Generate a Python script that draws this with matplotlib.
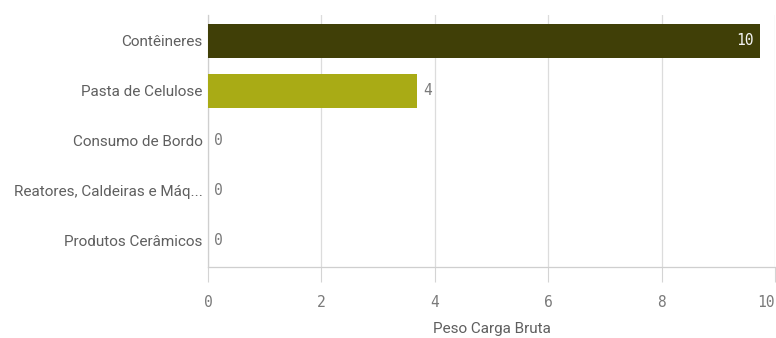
import matplotlib.pyplot as plt

categorias = ["Contêineres", "Pasta de Celulose", "Consumo de Bordo",
              "Reatores, Caldeiras e Máq...", "Produtos Cerâmicos"]
peso = [9.73, 3.69, 0, 0, 0]
cores = ["#403f07", "#a9ab15", "#a9ab15", "#a9ab15", "#a9ab15"]
xticks = [0, 2, 4, 6, 8, 10]

fig = plt.figure(figsize=(7.76, 3.38), dpi=100)
ax = fig.add_axes([208 / 776, 1 - 267 / 338, 567 / 776, 252 / 338])

pos = list(range(len(categorias)))
bars = ax.barh(pos, peso, height=0.68, color=cores, zorder=3)

ax.set_xlim(0, 10)
ax.set_ylim(4.54, -0.52)
ax.set_yticks(pos)
ax.set_yticklabels(categorias, fontsize=11, color="#5f5f5f", family="Roboto")
ax.tick_params(axis="y", length=0, pad=4)

ax.set_xticks(xticks)
ax.set_xticklabels([str(t) for t in xticks], fontsize=10.5,
                   color="#7a7a7a", family="DejaVu Sans Mono")
ax.get_xticklabels()[-1].set_ha("right")
ax.tick_params(axis="x", length=11, color="#d4d4d4", pad=9)
ax.grid(axis="x", color="#dcdcdc", linewidth=0.9, zorder=0)

for lado in ["top", "right"]:
    ax.spines[lado].set_visible(False)
for lado in ["left", "bottom"]:
    ax.spines[lado].set_color("#cfcfcf")
    ax.spines[lado].set_linewidth(0.9)

ax.set_xlabel("Peso Carga Bruta", fontsize=11, color="#5f5f5f",
              family="Roboto", labelpad=9)

# rótulos de valor: dentro da barra quando ela é longa, senão logo após
for b, v in zip(bars, peso):
    y = b.get_y() + b.get_height() / 2
    txt = f"{v:.0f}"
    if v > 8:
        ax.text(v - 0.1, y, txt, ha="right", va="center", fontsize=10.5,
                color="#f4f4f4", family="DejaVu Sans Mono", zorder=4)
    else:
        ax.text(v + 0.1, y, txt, ha="left", va="center", fontsize=10.5,
                color="#7a7a7a", family="DejaVu Sans Mono", zorder=4)

fig.savefig("out.png", dpi=100)
